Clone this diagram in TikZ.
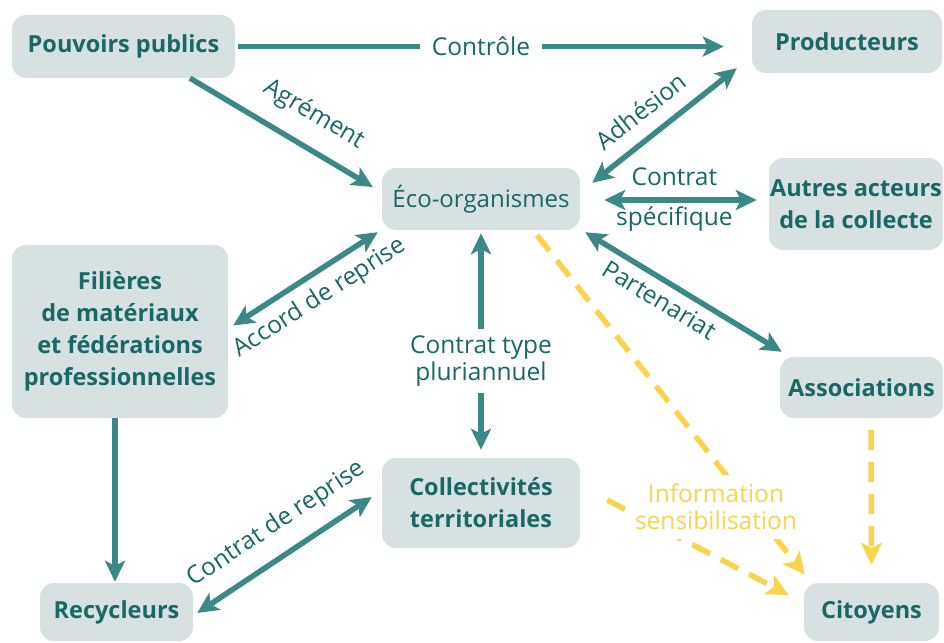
\documentclass[tikz,border=0pt]{standalone}
\usepackage{fontspec}
\setmainfont{Open Sans}
\usetikzlibrary{arrows.meta}
\definecolor{actorfill}{RGB}{216,225,226}
\definecolor{actortext}{RGB}{24,104,102}
\definecolor{linkteal}{RGB}{58,137,134}
\definecolor{infoyellow}{RGB}{249,212,76}
\tikzset{
  actor/.style={fill=actorfill, rounded corners=14pt, text=actortext, align=center,
    inner sep=0pt, font=\bfseries\fontsize{23.5}{32}\selectfont},
  link/.style={line width=5.5pt, draw=linkteal,
    >={Stealth[length=21pt, width=20pt, inset=5pt]}},
  info/.style={line width=5.5pt, draw=infoyellow, dash pattern=on 20pt off 12pt,
    >={Stealth[length=22pt, width=21pt, inset=5pt]}},
  linklabel/.style={text=actortext, inner sep=2pt, font=\fontsize{24.5}{27}\selectfont},
  infolabel/.style={text=infoyellow, fill=white, inner sep=9pt, align=center,
    font=\fontsize{24.5}{27}\selectfont},
}
\newcommand{\GenericActor}[5]{
  \node [#1] (#2) at (#3, #4) {#5};
}
\newcommand{\Actor}[5]{
  \GenericActor{actor, #1}{#2}{#3}{#4}{#5}
}
\newcommand{\PlainActor}[5]{
  \GenericActor{actor, font=\fontsize{24}{32}\selectfont, #1}{#2}{#3}{#4}{#5}
}
\newcommand{\OneWay}[3]{
  \draw [link, ->] (#1) -- (#2) #3;
}
\newcommand{\TwoWay}[3]{
  \draw [link, <->] (#1) -- (#2) #3;
}
\newcommand{\InfoLink}[2]{
  \draw [info, ->] (#1) -- (#2);
}
\begin{document}
\begin{tikzpicture}[x=1pt, y=-1pt]
        \useasboundingbox (0, 0) rectangle (944, 642);

        % top row
        \Actor{minimum width=223pt, minimum height=63pt}{pouv}{123.5}{46.5}{Pouvoirs publics}
        \Actor{minimum width=190pt, minimum height=63pt}{prod}{847}{41.5}{Producteurs}

        % middle column
        \PlainActor{minimum width=198pt, minimum height=62pt}{eco}{481}{199}{Éco-organismes}
        \Actor{minimum width=198pt, minimum height=90pt}{coll}{481}{503}{Collectivités\\territoriales}

        % left column
        \Actor{minimum width=216pt, minimum height=173pt}{fil}{120}{331.5}{Filières\\de matériaux\\et fédérations\\professionnelles}
        \Actor{minimum width=153pt, minimum height=58pt}{recy}{116.5}{612}{Recycleurs}

        % right column
        \Actor{minimum width=174pt, minimum height=92pt}{autres}{856}{204}{Autres acteurs\\de la collecte}
        \Actor{minimum width=163pt, minimum height=61pt}{assoc}{861.5}{387.5}{Associations}
        \Actor{minimum width=135pt, minimum height=58pt}{cito}{871.5}{612}{Citoyens}

        % links from Pouvoirs publics
        \OneWay{[shift={(3,0)}]pouv.east}{[shift={(-28,5)}]prod.west}
          {node [linklabel, fill=white, inner xsep=12pt, pos=0.5] (controle) {Contrôle}}
        \OneWay{[shift={(66.5,0)}]pouv.south}{[shift={(-9,-12)}]eco.west}
          {node [linklabel, sloped, pos=0.59, above=15pt] (agrement) {Agrément}}

        % links around Éco-organismes
        \TwoWay{[shift={(12,15)}]eco.north east}{[shift={(-15,-5)}]prod.south west}
          {node [linklabel, sloped, pos=0.45, above=12pt] (adhesion) {Adhésion}}
        \TwoWay{[shift={(24,1)}]eco.east}{[shift={(-12,-4)}]autres.west}
          {node [linklabel, pos=0.46, above=10pt] (contrat) {Contrat}
           node [linklabel, pos=0.46, below=2pt] (specifique) {spécifique}}
        \TwoWay{[shift={(5,2)}]eco.south east}{[shift={(2,-5)}]assoc.north west}
          {node [linklabel, sloped, pos=0.43, below=5pt] (partenariat) {Partenariat}}
        \TwoWay{[shift={(5,-6)}]fil.east}{[shift={(-4,2)}]eco.south west}
          {node [linklabel, sloped, pos=0.51, below=7pt] (accord) {Accord de reprise}}
        \TwoWay{[shift={(0,3)}]eco.south}{[shift={(0,-8)}]coll.north}
          {node [linklabel, fill=white, align=center, inner ysep=7pt, pos=0.59] (pluri) {Contrat type\\pluriannuel}}

        % recycling chain
        \OneWay{[shift={(-5,0)}]fil.south}{[shift={(-1.5,-1)}]recy.north}{}
        \TwoWay{[shift={(4,1)}]recy.east}{[shift={(-10,-6)}]coll.west}
          {node [linklabel, sloped, pos=0.55, above=13pt] (reprise) {Contrat de reprise}}

        % information towards Citoyens
        \InfoLink{[shift={(56,5)}]eco.south}{[shift={(1,-8)}]cito.north west}
        \InfoLink{[shift={(27,-3)}]coll.east}{[shift={(-15,-17)}]cito.west}
        \InfoLink{[shift={(9.5,12)}]assoc.south}{[shift={(0,-18)}]cito.north}
        \node [infolabel] (info) at (716, 507) {Information\\sensibilisation};

      \end{tikzpicture}
\end{document}
